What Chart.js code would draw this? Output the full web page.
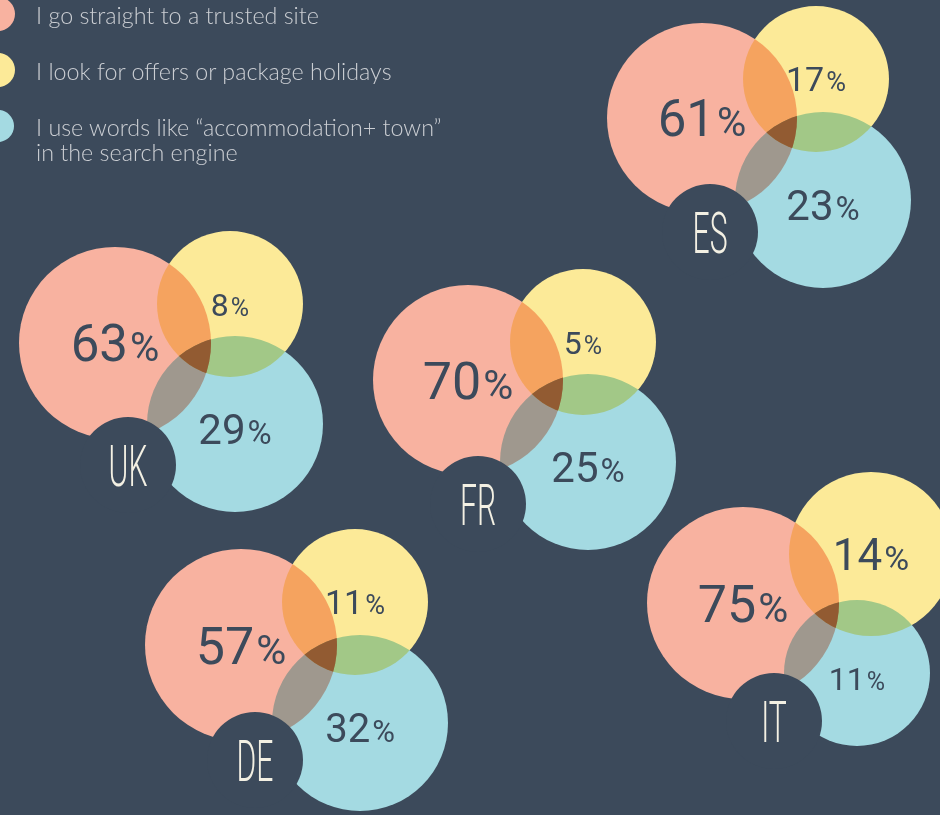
<!DOCTYPE html>
<html>
<head>
<meta charset="utf-8">
<script src="https://cdn.jsdelivr.net/npm/chart.js@4"></script>
<style>
  body { margin: 0; background: #3c4a5b; }
  #wrap { position: relative; width: 940px; height: 815px; overflow: hidden; }
  #legend { position: absolute; left: 0; top: 0; font-family: Lato, sans-serif; font-weight: 300; font-size: 23.3px; color: #cbced3; }
  .item { position: absolute; left: 36px; white-space: nowrap; line-height: 25px; }
  .dot { position: absolute; border-radius: 50%; }
</style>
</head>
<body>
<div id="wrap">
  <canvas id="grafico" width="940" height="815"></canvas>
  <div id="legend"></div>
</div>
<script>
// dados
const paises = ['ES', 'UK', 'FR', 'DE', 'IT'];
const siteConfiavel = [61, 63, 70, 57, 75];   // I go straight to a trusted site
const ofertas = [17, 8, 5, 11, 14];           // I look for offers or package holidays
const buscador = [23, 29, 25, 32, 11];        // I use words like ...
const series = ['I go straight to a trusted site', 'I look for offers or package holidays', 'I use words like \u201Caccommodation+ town\u201D\nin the search engine'];
const cores = ['#f8b2a0', '#fcea98', '#a4dae2'];
const fundo = '#3c4a5b';

// layout (centro e raio de cada circulo)
const posRosa = [[702, 118], [115, 343], [468, 380], [241, 645], [743, 603]];
const raioRosa = [95, 96, 95, 96, 96];
const posAmarelo = [[816, 79], [230, 304], [583, 342], [355, 602], [871, 554]];
const raioAmarelo = [73, 73, 73, 73, 82];
const posAzul = [[823, 200], [235, 424], [588, 462], [360, 723], [857, 673]];
const raioAzul = [88, 88, 88, 88, 73];
const posPais = [[710, 232], [128, 465], [478, 504], [255, 760], [774, 721]];
const raioPais = 48;
const fonteRosa = [51, 51, 52, 52, 52];
const fonteAmarelo = [34, 32, 32, 34, 44];
const fonteAzul = [42, 42, 42, 40, 32];

// legenda
const legend = document.getElementById('legend');
const tops = [3, 59, 115];
series.forEach((s, i) => {
  const dot = document.createElement('div');
  dot.className = 'dot';
  const r = i === 2 ? 16 : 17;
  const cy = [14, 70, 126][i];
  dot.style.cssText = `left:${-2 - r}px;top:${cy - r}px;width:${2 * r}px;height:${2 * r}px;background:${cores[i]}`;
  legend.appendChild(dot);
  const t = document.createElement('div');
  t.className = 'item';
  t.style.top = tops[i] + 'px';
  t.innerHTML = s.replace('\n', '<br>');
  legend.appendChild(t);
});

function pontos(pos, raio) {
  return pos.map((p, i) => ({ x: p[0], y: p[1], r: Array.isArray(raio) ? raio[i] : raio }));
}

function circulo(ctx, el) {
  ctx.beginPath();
  ctx.arc(el.x, el.y, el.options.radius, 0, Math.PI * 2);
}

const mistura = {
  id: 'mistura',
  beforeDatasetDraw(chart, args) {
    const ctx = chart.ctx;
    ctx.save();
    if (args.index === 0) {
      // interseccao dos tres circulos
      const rosa = chart.getDatasetMeta(1).data;
      const amar = chart.getDatasetMeta(2).data;
      const azul = chart.getDatasetMeta(3).data;
      rosa.forEach((el, i) => {
        ctx.save();
        circulo(ctx, el); ctx.clip();
        circulo(ctx, amar[i]); ctx.clip();
        circulo(ctx, azul[i]);
        ctx.fillStyle = '#925b32';
        ctx.fill();
        ctx.restore();
      });
      ctx.globalCompositeOperation = 'source-over';
    } else {
      ctx.globalCompositeOperation = 'multiply';
    }
  },
  afterDatasetDraw(chart) {
    chart.ctx.restore();
  },
  afterDatasetsDraw(chart) {
    const ctx = chart.ctx;
    ctx.save();
    ctx.textBaseline = 'alphabetic';
    ctx.fillStyle = '#3c4a5b';
    const grupos = [[siteConfiavel, fonteRosa, 0], [ofertas, fonteAmarelo, 0], [buscador, fonteAzul, 5]];
    grupos.forEach((g, k) => {
      const meta = chart.getDatasetMeta(k + 1);
      meta.data.forEach((el, i) => {
        const fs = g[1][i];
        const num = String(g[0][i]);
        const fp = Math.round(fs * 0.78);
        ctx.font = `400 ${fs}px Roboto`;
        const w1 = ctx.measureText(num).width;
        ctx.font = `400 ${fp}px Roboto`;
        const w2 = ctx.measureText('%').width;
        const x0 = el.x - (w1 + w2 + 2) / 2;
        const base = el.y + g[2] + fs * 0.36;
        ctx.textAlign = 'left';
        ctx.font = `400 ${fs}px Roboto`;
        ctx.fillText(num, x0, base);
        ctx.font = `400 ${fp}px Roboto`;
        ctx.fillText('%', x0 + w1 + 2, base);
      });
    });
    // nomes dos paises
    const meta = chart.getDatasetMeta(0);
    ctx.fillStyle = '#f3f0e3';
    ctx.textAlign = 'center';
    ctx.font = '300 58px Roboto';
    meta.data.forEach((el, i) => {
      ctx.save();
      ctx.translate(el.x, el.y + 21);
      ctx.scale(0.52, 1);
      ctx.fillText(paises[i], 0, 0);
      ctx.restore();
    });
    ctx.restore();
  }
};

new Chart(document.getElementById('grafico'), {
  type: 'bubble',
  data: {
    datasets: [
      { label: 'pais', data: pontos(posPais, raioPais), backgroundColor: fundo, borderWidth: 0, order: 0 },
      { label: series[0], data: pontos(posRosa, raioRosa), backgroundColor: cores[0], borderWidth: 0, order: 1 },
      { label: series[1], data: pontos(posAmarelo, raioAmarelo), backgroundColor: cores[1], borderWidth: 0, order: 1 },
      { label: series[2], data: pontos(posAzul, raioAzul), backgroundColor: cores[2], borderWidth: 0, order: 1 }
    ]
  },
  options: {
    responsive: false,
    animation: false,
    events: [],
    layout: { padding: 0, autoPadding: false },
    clip: false,
    scales: {
      x: { type: 'linear', min: 0, max: 940, display: false },
      y: { type: 'linear', min: 0, max: 815, reverse: true, display: false }
    },
    plugins: { legend: { display: false }, tooltip: { enabled: false } }
  },
  plugins: [mistura]
});
</script>
</body>
</html>
